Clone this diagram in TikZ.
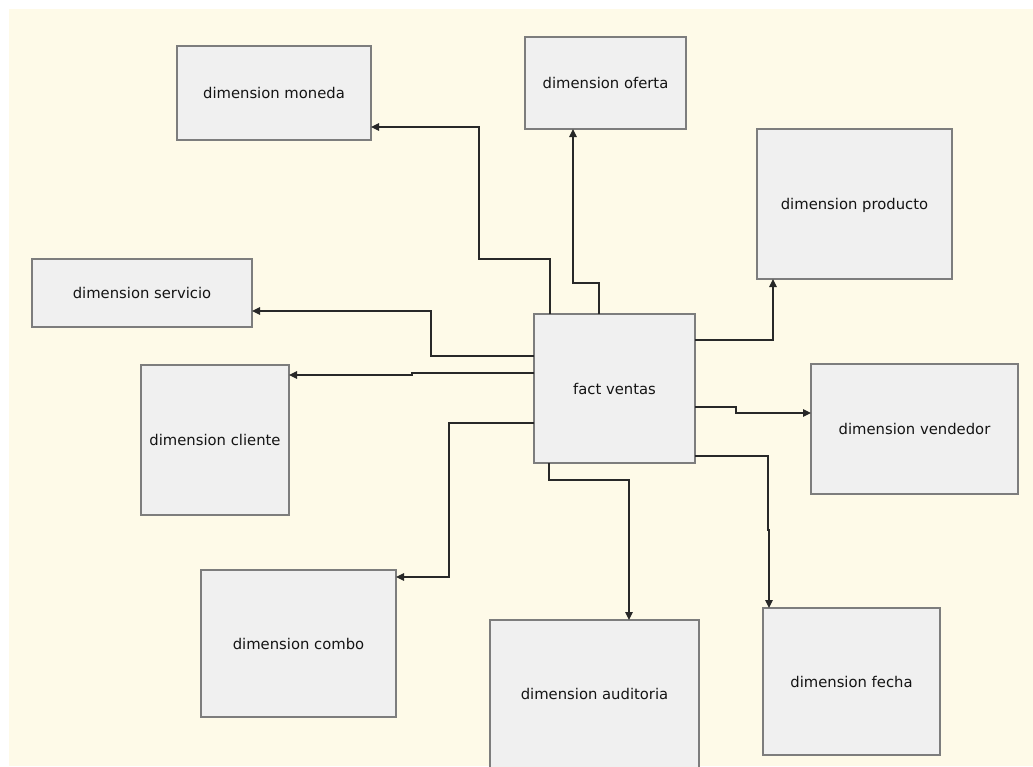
\documentclass[tikz,border=0pt]{standalone}
\usepackage{fontspec}
\setmainfont{DejaVu Sans}
\usetikzlibrary{arrows.meta}
\definecolor{canvas}{RGB}{254,250,232}
\definecolor{boxfill}{RGB}{240,240,240}
\definecolor{boxline}{RGB}{125,125,125}
\definecolor{linkline}{RGB}{40,40,40}
\tikzset{
  entity/.style={draw=boxline, fill=boxfill, line width=1.6pt, inner sep=0pt, outer sep=0pt,
    font=\fontsize{14.8}{17}\selectfont, text=black!92, text depth=0pt},
  link/.style={draw=linkline, line width=1.1pt, -{Triangle[length=8pt,width=7.5pt]}},
}
\begin{document}
\begin{tikzpicture}[x=1pt,y=-1pt]
\useasboundingbox (0,0) rectangle (1033,766);
\clip (0,0) rectangle (1033,766);
\fill[white] (0,0) rectangle (1033,766);
\fill[canvas] (9,9) rectangle (1033,766);

% dimension tables and the fact table
\node[entity, minimum width=194pt, minimum height=94pt]  (moneda)    at (274,93)    {dimension moneda};
\node[entity, minimum width=161pt, minimum height=92pt]  (oferta)    at (605.5,83)  {dimension oferta};
\node[entity, minimum width=195pt, minimum height=150pt] (producto)  at (854.5,204) {dimension producto};
\node[entity, minimum width=220pt, minimum height=68pt]  (servicio)  at (142,293)   {dimension servicio};
\node[entity, minimum width=148pt, minimum height=150pt] (cliente)   at (215,440)   {dimension cliente};
\node[entity, minimum width=161pt, minimum height=149pt] (fact)      at (614.5,388.5) {fact ventas};
\node[entity, minimum width=207pt, minimum height=130pt] (vendedor)  at (914.5,429) {dimension vendedor};
\node[entity, minimum width=195pt, minimum height=147pt] (combo)     at (298.5,643.5) {dimension combo};
\node[entity, minimum width=209pt, minimum height=148pt] (auditoria) at (594.5,694) {dimension auditoria};
\node[entity, minimum width=177pt, minimum height=147pt] (fecha)     at (851.5,681.5) {dimension fecha};

% bend points of the orthogonal connectors
\coordinate (m1) at (479,259);  \coordinate (m2) at (479,127);
\coordinate (o1) at (573,283);
\coordinate (s1) at (431,311);
\coordinate (c1) at (412,375);
\coordinate (k1) at (449,577);
\coordinate (a1) at (629,480);
\coordinate (p1) at (773,340);
\coordinate (v1) at (736,413);
\coordinate (f1) at (768,530);  \coordinate (f2) at (769,530);

% foreign keys of the fact table
\draw[link] ([xshift=16pt]fact.north west) |- (m1) -- (m2) -- (moneda.east |- m2);
\draw[link] ([xshift=65pt]fact.north west) |- (o1) -- (oferta.south -| o1);
\draw[link] (fact.west |- 0,356) -| (s1) -- (servicio.east |- s1);
\draw[link] (fact.west |- 0,373) -| (c1) -- (cliente.east |- c1);
\draw[link] (fact.west |- 0,423) -| (k1) -- (combo.east |- k1);
\draw[link] ([xshift=15pt]fact.south west) |- (a1) -- (auditoria.north -| a1);
\draw[link] (fact.east |- 0,340) -| (p1) -- (producto.south -| p1);
\draw[link] (fact.east |- 0,407) -| (v1) -- (vendedor.west |- v1);
\draw[link] (fact.east |- 0,456) -| (f1) -- (f2) -- (fecha.north -| f2);
\end{tikzpicture}
\end{document}
